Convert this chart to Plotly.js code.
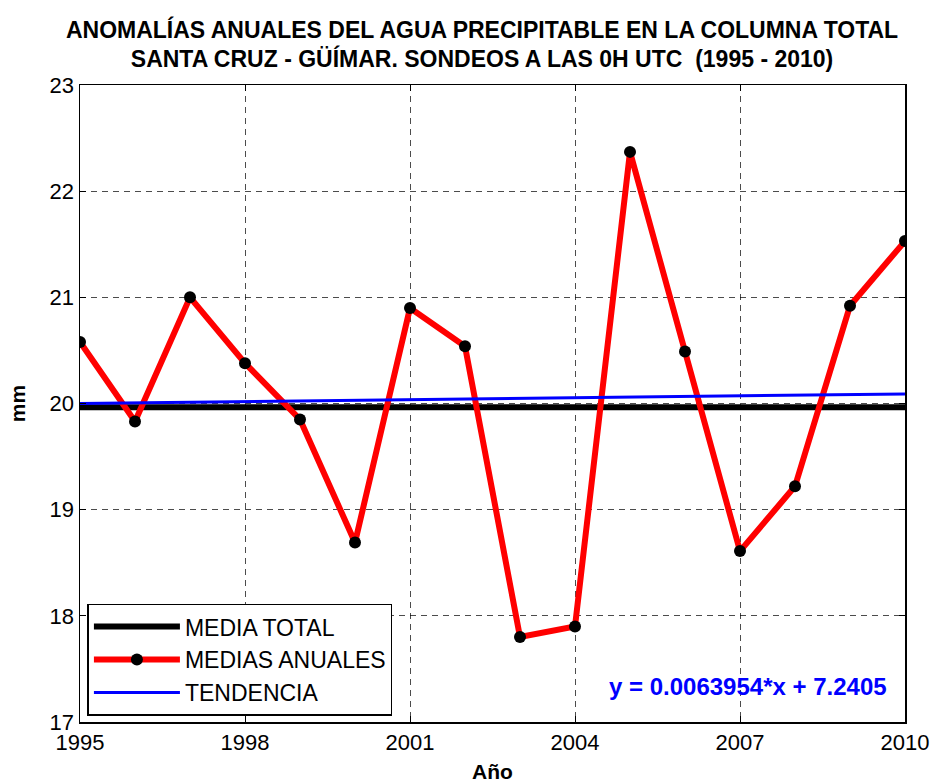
<!DOCTYPE html>
<html>
<head>
<meta charset="utf-8">
<script src="https://cdn.plot.ly/plotly-3.0.1.min.js"></script>
<style>html,body{margin:0;padding:0;background:#fff;}#chart{width:936px;height:783px;}</style>
</head>
<body>
<div id="chart"></div>
<script>
var years = [1995,1996,1997,1998,1999,2000,2001,2002,2003,2004,2005,2006,2007,2008,2009,2010];
var annualMeans = [20.58,19.83,21.00,20.38,19.85,18.69,20.90,20.54,17.80,17.90,22.37,20.49,18.61,19.22,20.92,21.53];
var meanX = [1995, 2010];
var meanY = [19.965, 19.965];
var trendX = [1995, 2010];
var trendY = [20.00, 20.09];
var xTicks = [1995,1998,2001,2004,2007,2010];
var yTicks = [17,18,19,20,21,22,23];

var font = "Liberation Sans, Arial, sans-serif";

var traces = [
  {x: meanX, y: meanY, mode: 'lines', name: 'MEDIA TOTAL',
   line: {color: '#000000', width: 6}},
  {x: years, y: annualMeans, mode: 'lines+markers', name: 'MEDIAS ANUALES',
   line: {color: '#ff0000', width: 6},
   marker: {color: '#000000', size: 12, symbol: 'circle'}},
  {x: trendX, y: trendY, mode: 'lines', name: 'TENDENCIA',
   line: {color: '#0000ff', width: 3}}
];

var axisCommon = {
  showline: true, mirror: 'ticks', linecolor: '#000', linewidth: 1.5,
  ticks: 'inside', ticklen: 6, tickcolor: '#000',
  showgrid: true, gridcolor: '#000', griddash: '6px,5px', gridwidth: 0.7,
  zeroline: false,
  tickfont: {family: font, size: 22, color: '#000'}
};

var layout = {
  width: 936, height: 783,
  paper_bgcolor: '#fff', plot_bgcolor: '#fff',
  margin: {l: 80, r: 31, t: 85, b: 61},
  title: {
    text: '<b>ANOMALÍAS ANUALES DEL AGUA PRECIPITABLE EN LA COLUMNA TOTAL<br>SANTA CRUZ - GÜÍMAR. SONDEOS A LAS 0H UTC  (1995 - 2010)</b>',
    font: {family: font, size: 23, color: '#000'},
    x: 0.515, xanchor: 'center', y: 0.952, yanchor: 'top'
  },
  xaxis: Object.assign({}, axisCommon, {
    range: [1995, 2010], tickvals: xTicks, ticktext: xTicks.map(String),
    title: {text: '<b>Año</b>', font: {family: font, size: 21, color: '#000'}, standoff: 13}
  }),
  yaxis: Object.assign({}, axisCommon, {
    range: [17, 23], tickvals: yTicks, ticktext: yTicks.map(String),
    title: {text: '<b>mm</b>', font: {family: font, size: 21, color: '#000'}, standoff: 18}
  }),
  showlegend: true,
  legend: {
    x: 0.009, y: 0.01, xanchor: 'left', yanchor: 'bottom',
    bgcolor: '#fff', bordercolor: '#000', borderwidth: 1.5,
    font: {family: font, size: 23, color: '#000'},
    itemwidth: 86, tracegroupgap: 0
  },
  annotations: [{
    xref: 'paper', yref: 'paper', x: 0.98, y: 0.055, xanchor: 'right', yanchor: 'middle',
    text: '<b>y = 0.0063954*x + 7.2405</b>', showarrow: false,
    font: {family: font, size: 24, color: '#0000ff'}
  }]
};

Plotly.newPlot('chart', traces, layout, {displayModeBar: false, staticPlot: true});
</script>
</body>
</html>
